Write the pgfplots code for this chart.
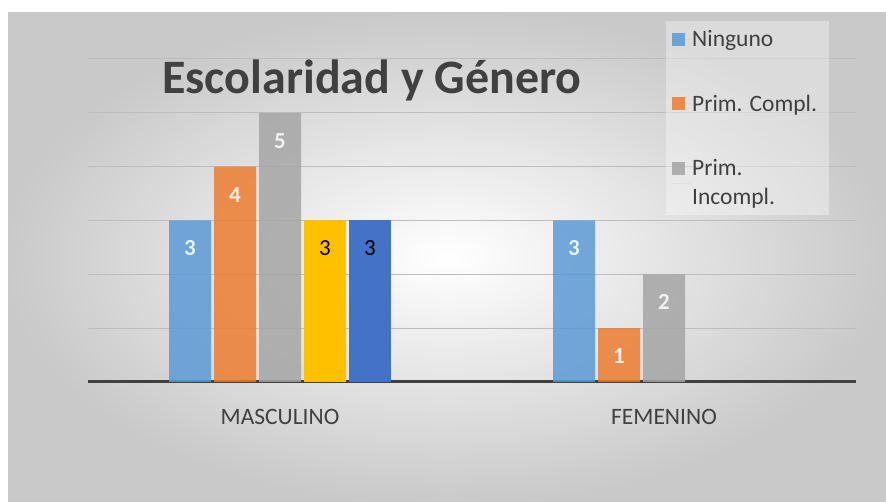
\documentclass[border=0pt]{standalone}
\usepackage{pgfplots}
\pgfplotsset{compat=1.18}
\usepackage{fontspec}
\setmainfont{Carlito}
\definecolor{txt}{HTML}{404040}
\definecolor{cBlue}{HTML}{5B9BD5}
\definecolor{cOrange}{HTML}{ED7D31}
\definecolor{cGray}{HTML}{A5A5A5}
\definecolor{cYellow}{HTML}{FFC000}
\definecolor{cDBlue}{HTML}{4472C4}
\definecolor{gridc}{HTML}{BDBDBD}
\begin{document}
\begin{tikzpicture}[x=1pt,y=1pt]
\useasboundingbox (0,0) rectangle (886,502);
\fill[white] (0,0) rectangle (886,502);
\shade[inner color=white, outer color=black!21] (8,0) rectangle (886,489);
\begin{axis}[
  at={(88pt,120pt)}, anchor=south west,
  scale only axis, width=768pt, height=323pt,
  xmin=-0.5, xmax=1.5, ymin=0, ymax=6,
  axis x line=bottom, axis y line=left,
  x axis line style={line width=3pt, draw=txt, -},
  y axis line style={draw=none},
  ytick={1,2,3,4,5,6}, yticklabels={}, ytick style={draw=none},
  xtick={0,1}, xticklabels={MASCULINO,FEMENINO}, xtick style={draw=none},
  xticklabel style={font=\fontsize{23.5}{27}\selectfont, text=txt, yshift=-19pt},
  ymajorgrids, grid style={gridc, line width=1pt},
  ybar, bar width=42pt,
  /pgf/number format/assume math mode=true,
  nodes near coords,
  every node near coord/.append style={anchor=center, yshift=-28pt, font=\fontsize{23}{26}\selectfont\bfseries, text=white},
  legend style={at={(0.7526,1.1176)}, anchor=north west, draw=none, fill=white, fill opacity=0.35, text opacity=1,
    font=\fontsize{23.5}{29}\selectfont, text=txt, row sep=43pt, inner xsep=6pt, inner ysep=7pt,
    cells={anchor=west, align=left}},
  legend image code/.code={\fill[#1] (0pt,-6.5pt) rectangle (13pt,6.5pt); \path (0pt,0pt) -- (18pt,0pt);},
  legend cell align=left,
]
\addplot[draw=none, fill=cBlue, fill opacity=0.85, bar shift=-90pt] coordinates {(0,3) (1,3)};
\addplot[draw=none, fill=cOrange, fill opacity=0.85, bar shift=-45pt] coordinates {(0,4) (1,1)};
\addplot[draw=none, fill=cGray, fill opacity=0.85, bar shift=0pt,
  legend image code/.code={\fill[cGray, fill opacity=0.85] (0pt,8pt) rectangle (13pt,21pt); \path (0pt,0pt) -- (18pt,0pt);}] coordinates {(0,5) (1,2)};
\addplot[forget plot, draw=none, fill=cYellow, bar shift=45pt,
  every node near coord/.append style={font=\fontsize{23}{26}\selectfont, text=black}] coordinates {(0,3)};
\addplot[forget plot, draw=none, fill=cDBlue, bar shift=90pt,
  every node near coord/.append style={font=\fontsize{23}{26}\selectfont, text=black}] coordinates {(0,3)};
\legend{Ninguno, Prim. Compl.\hspace{4pt}, {Prim.\\Incompl.}}
\end{axis}
\node[font=\fontsize{48}{54}\selectfont\bfseries, text=txt] at (372,422) {Escolaridad y Género};
\end{tikzpicture}
\end{document}
